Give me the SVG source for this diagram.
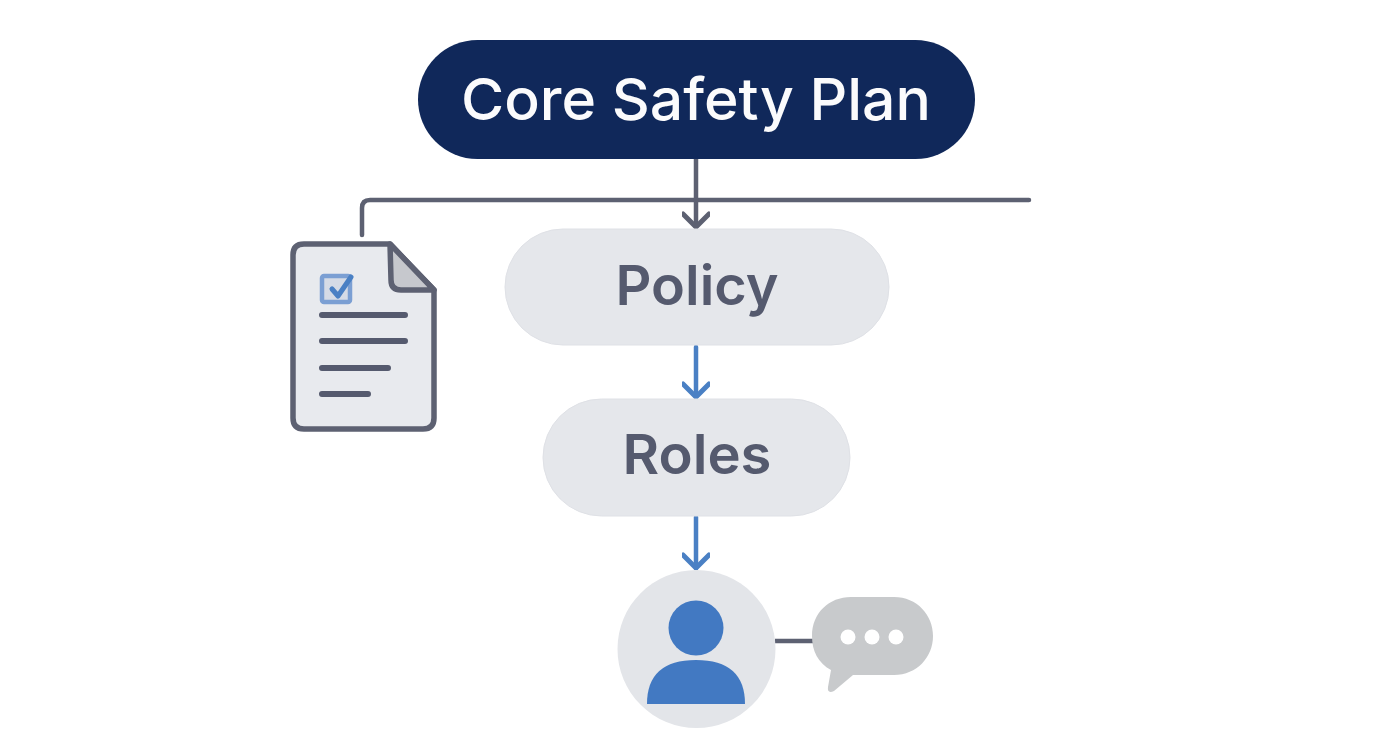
<svg xmlns="http://www.w3.org/2000/svg" width="1392" height="752" viewBox="0 0 1392 752">
<defs>
<style>
text{font-family:"Inter","Noto Sans",sans-serif;text-anchor:middle}
.pill{fill:#e5e7eb;stroke:#dfe1e6;stroke-width:1}
.label{fill:#555a6e;font-size:55px;font-weight:600}
.gray{fill:none;stroke:#5d6172;stroke-width:4.500;stroke-linecap:round;stroke-linejoin:round}
.blue{fill:none;stroke:#4a80c4;stroke-width:4.500;stroke-linecap:round;stroke-linejoin:round}
.docline{fill:none;stroke:#555a6e;stroke-width:6;stroke-linecap:round}
</style>
<marker id="arrowGray" viewBox="-16 -14 18 28" refX="0" refY="0" markerWidth="18" markerHeight="28" markerUnits="userSpaceOnUse" orient="auto"><path d="M-13,-13L0,0L-13,13" fill="none" stroke="#5d6172" stroke-width="5" stroke-linecap="round" stroke-linejoin="round"/></marker>
<marker id="arrowBlue" viewBox="-16 -14 18 28" refX="0" refY="0" markerWidth="18" markerHeight="28" markerUnits="userSpaceOnUse" orient="auto"><path d="M-13,-13L0,0L-13,13" fill="none" stroke="#4a80c4" stroke-width="5" stroke-linecap="round" stroke-linejoin="round"/></marker>
</defs>
<rect width="1392" height="752" fill="#ffffff"/>
<g id="connectors">
<path class="gray" d="M362,235V208Q362,200 370,200H1029"/>
<path class="gray" d="M696,158V227" marker-end="url(#arrowGray)"/>
<path class="blue" d="M696,347V397" marker-end="url(#arrowBlue)"/>
<path class="blue" d="M696,517V568" marker-end="url(#arrowBlue)"/>
<path d="M775,641H813" fill="none" stroke="#5d6172" stroke-width="4.500"/>
</g>
<g id="core-safety-plan">
<rect x="418" y="40" width="557" height="119" rx="59.500" fill="#10285a"/>
<text x="696" y="120" font-size="58" font-weight="500" fill="#fbfbfc" textLength="470" lengthAdjust="spacingAndGlyphs">Core Safety Plan</text>
</g>
<g id="policy">
<rect class="pill" x="505" y="229" width="384" height="116" rx="58"/>
<text class="label" x="697" y="305" textLength="163" lengthAdjust="spacingAndGlyphs">Policy</text>
</g>
<g id="roles">
<rect class="pill" x="543" y="399" width="307" height="117" rx="58.500"/>
<text class="label" x="697" y="474" textLength="149" lengthAdjust="spacingAndGlyphs">Roles</text>
</g>
<g id="document">
<path d="M304,244H390L434,290V418Q434,429 423,429H304Q293,429 293,418V255Q293,244 304,244Z" fill="#e8eaee" stroke="#5d6172" stroke-width="5.500" stroke-linejoin="round"/>
<path d="M390,244L434,290H401Q391,290 391,280Z" fill="#c6c8cd" stroke="#5d6172" stroke-width="5.500" stroke-linejoin="round"/>
<rect x="322" y="276" width="28" height="26" rx="2" fill="#d5dbe6" stroke="#7b9fd3" stroke-width="4.500"/>
<path d="M332,289L338,296L351,277" fill="none" stroke="#4a80c4" stroke-width="5" stroke-linecap="round" stroke-linejoin="round"/>
<path class="docline" d="M322,315H405M322,341H405M322,368H388M322,394H368"/>
</g>
<g id="user">
<circle cx="696.500" cy="649" r="79" fill="#e3e5e9"/>
<circle cx="696" cy="628" r="27.500" fill="#4279c2"/>
<path d="M647,704Q647,660 696,660Q745,660 745,704Z" fill="#4279c2"/>
</g>
<g id="speech-bubble">
<path d="M851,597H894C917,597 933,615 933,636C933,657 917,675 894,675H853L834,691Q827,694 828,687L831,670C818,663 812,651 812,636C812,613 829,597 851,597Z" fill="#c8cacc"/>
<circle cx="848" cy="637" r="7.500" fill="#ffffff"/>
<circle cx="872" cy="637" r="7.500" fill="#ffffff"/>
<circle cx="896" cy="637" r="7.500" fill="#ffffff"/>
</g>
</svg>
